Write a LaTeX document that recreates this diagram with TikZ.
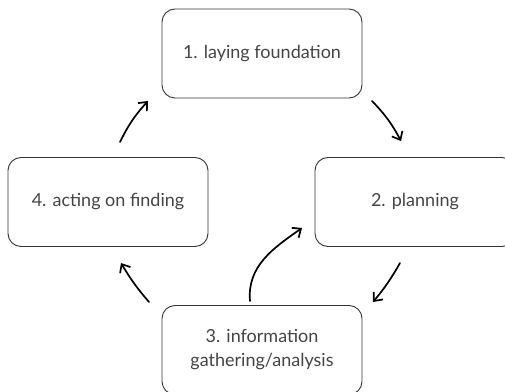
\documentclass[tikz,border=0pt]{standalone}
\usepackage{fontspec}
\setmainfont{Lato}
\usetikzlibrary{arrows.meta}
\definecolor{txt}{HTML}{444444}
\definecolor{edge}{HTML}{333333}
\begin{document}
\begin{tikzpicture}[x=1pt,y=1pt,
  stepbox/.style={draw=edge,line width=0.9pt,rounded corners=13pt,minimum width=200pt,minimum height=89pt,inner sep=0pt,align=center,text=txt,font=\fontsize{18}{24}\selectfont},
  flow/.style={line width=1.7pt,line cap=round,-{Straight Barb[length=7pt,width=12pt,line width=1.7pt]}}]
\useasboundingbox (0,0) rectangle (505,391);
\node[stepbox] (b1) at (262,337.5) {1. laying foundation};
\node[stepbox] (b2) at (415,189) {2. planning};
\node[stepbox] (b3) at (262,41) {3. information\\gathering/analysis};
\node[stepbox] (b4) at (108,189) {4. acting on finding};
\coordinate (t41) at (120,249); \coordinate (h41) at (148,290);
\coordinate (t12) at (372,290); \coordinate (h12) at (401,250);
\coordinate (t23) at (400,128); \coordinate (h23) at (373,89);
\coordinate (t34) at (149,89); \coordinate (h34) at (121,128);
\coordinate (tc) at (250,90); \coordinate (hc) at (302,163);
\draw[flow] (t41) to[bend left=8] (h41);
\draw[flow] (t12) to[bend left=8] (h12);
\draw[flow] (t23) to[bend left=5] (h23);
\draw[flow] (t34) to[bend left=5] (h34);
\draw[flow] (tc) to[out=95,in=215] (hc);
\end{tikzpicture}
\end{document}
